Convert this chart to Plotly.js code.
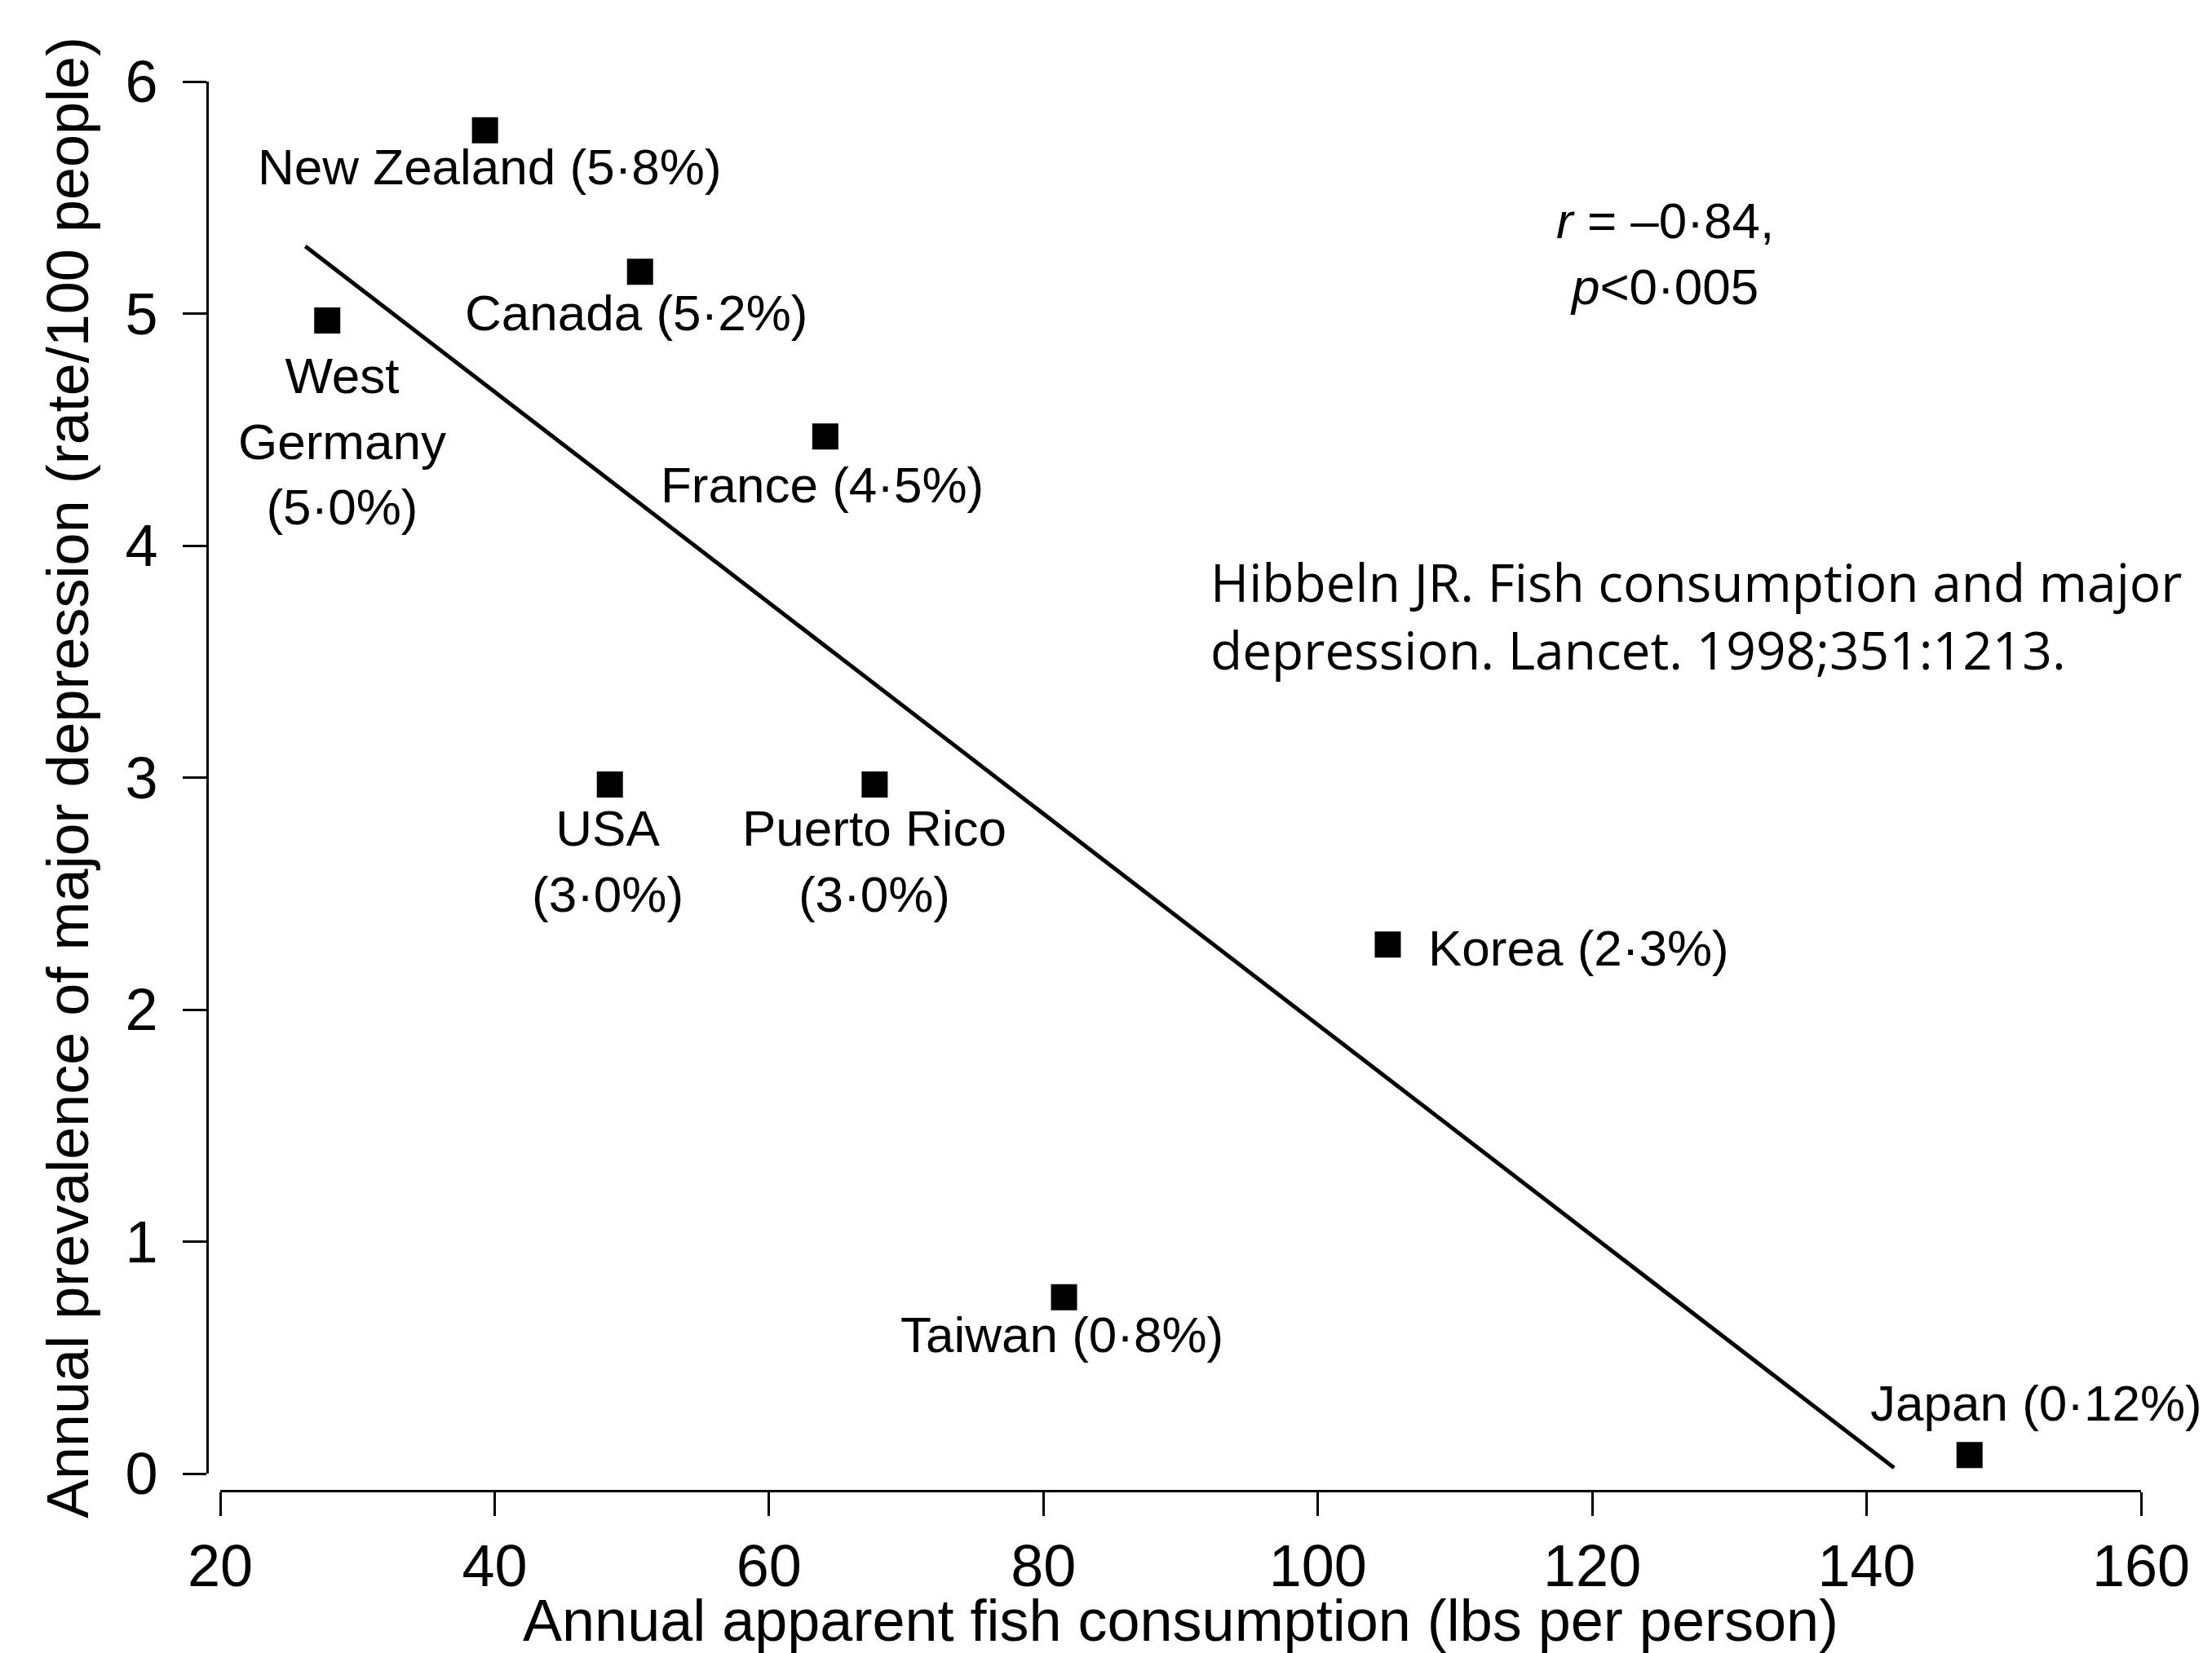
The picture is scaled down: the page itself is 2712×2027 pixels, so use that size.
<!DOCTYPE html>
<html>
<head>
<meta charset="utf-8">
<script src="https://cdn.plot.ly/plotly-3.0.1.min.js"></script>
<style>
  html, body { margin: 0; padding: 0; background: #ffffff; }
  #chart { width: 2712px; height: 2027px; }
</style>
</head>
<body>
<div id="chart"></div>
<script>
// ---- Data ----
const countries = ['New Zealand', 'Canada', 'West Germany', 'France', 'USA', 'Puerto Rico', 'Korea', 'Taiwan', 'Japan'];
const fishLbs = [39.3, 50.6, 27.8, 64.1, 48.4, 67.7, 105.1, 81.5, 147.5];
const prevalence = [5.79, 5.18, 4.97, 4.47, 2.97, 2.97, 2.28, 0.76, 0.08];
const pointLabels = ['New Zealand (5·8%)', 'Canada (5·2%)', 'West<br>Germany<br>(5·0%)', 'France (4·5%)',
                     'USA<br>(3·0%)', 'Puerto Rico<br>(3·0%)', 'Korea (2·3%)', 'Taiwan (0·8%)', 'Japan (0·12%)'];
const fitX = [26.2, 142.0];
const fitY = [5.29, 0.025];
const xTicks = [20, 40, 60, 80, 100, 120, 140, 160];
const yTicks = [0, 1, 2, 3, 4, 5, 6];
const statsText = '<i>r</i> = –0·84,<br><i>p</i>&lt;0·005';
const citationText = 'Hibbeln JR. Fish consumption and major<br>depression. Lancet. 1998;351:1213.';
const xTitle = 'Annual apparent fish consumption (lbs per person)';
const yTitle = 'Annual prevalence of major depression (rate/100 people)';

// ---- label placement (pixel offsets from each point) ----
const labelPlacement = [
  {dx: 6, dy: -45, anchor: 'center'},
  {dx: -5, dy: -50, anchor: 'center'},
  {dx: 18, dy: -148, anchor: 'center'},
  {dx: -4, dy: -59, anchor: 'center'},
  {dx: -3, dy: -94, anchor: 'center'},
  {dx: 0, dy: -94, anchor: 'center'},
  {dx: 47, dy: -4, anchor: 'left'},
  {dx: -3, dy: -46, anchor: 'center'},
  {dx: 82, dy: 64, anchor: 'center'}
];

const mainFont = 'Liberation Sans, Arial, sans-serif';

const traces = [
  {
    x: fitX, y: fitY, type: 'scatter', mode: 'lines',
    line: {color: '#000000', width: 5},
    hoverinfo: 'skip', showlegend: false, cliponaxis: false
  },
  {
    x: fishLbs, y: prevalence, type: 'scatter', mode: 'markers',
    text: countries,
    marker: {symbol: 'square', size: 32, color: '#000000', line: {width: 0}},
    showlegend: false, cliponaxis: false
  }
];

const annotations = pointLabels.map((t, i) => ({
  x: fishLbs[i], y: prevalence[i], xref: 'x', yref: 'y',
  text: t, showarrow: false,
  xanchor: labelPlacement[i].anchor, yanchor: 'middle', align: 'center',
  xshift: labelPlacement[i].dx, yshift: labelPlacement[i].dy,
  font: {family: mainFont, size: 62, color: '#000000'}
}));

annotations.push({
  xref: 'paper', yref: 'paper', x: 0.754, y: 0.878,
  text: statsText, showarrow: false, xanchor: 'center', yanchor: 'middle', align: 'center',
  font: {family: mainFont, size: 62, color: '#000000'}
});
annotations.push({
  xref: 'paper', yref: 'paper', x: 0.518, y: 0.621,
  text: citationText, showarrow: false, xanchor: 'left', yanchor: 'middle', align: 'left',
  font: {family: 'Open Sans, Noto Sans, sans-serif', size: 64, color: '#000000'}
});

const layout = {
  width: 2712, height: 2027,
  paper_bgcolor: '#ffffff', plot_bgcolor: '#ffffff',
  margin: {l: 254, r: 87, t: 100, b: 199, pad: 0},
  showlegend: false,
  font: {family: mainFont, color: '#000000'},
  xaxis: {
    domain: [0.00675, 1], range: [20, 160], anchor: 'free', position: 0,
    tickmode: 'array', tickvals: xTicks, ticktext: xTicks.map(String),
    ticks: 'outside', ticklen: 29, tickwidth: 3, tickcolor: '#000000',
    showline: true, linecolor: '#000000', linewidth: 3,
    showgrid: false, zeroline: false, ticklabelstandoff: 0,
    tickfont: {family: mainFont, size: 72, color: '#000000'},
    title: {text: xTitle, font: {family: mainFont, size: 72, color: '#000000'}, standoff: 8}
  },
  yaxis: {
    domain: [0.01215, 1], range: [0, 6], anchor: 'free', position: 0,
    tickmode: 'array', tickvals: yTicks, ticktext: yTicks.map(String),
    ticks: 'outside', ticklen: 29, tickwidth: 3, tickcolor: '#000000',
    showline: true, linecolor: '#000000', linewidth: 3,
    showgrid: false, zeroline: false, ticklabelstandoff: 16,
    tickfont: {family: mainFont, size: 72, color: '#000000'},
    title: {text: yTitle, font: {family: mainFont, size: 72, color: '#000000'}, standoff: 20}
  },
  annotations: annotations
};

Plotly.newPlot('chart', traces, layout, {staticPlot: true, displayModeBar: false});
</script>
</body>
</html>
